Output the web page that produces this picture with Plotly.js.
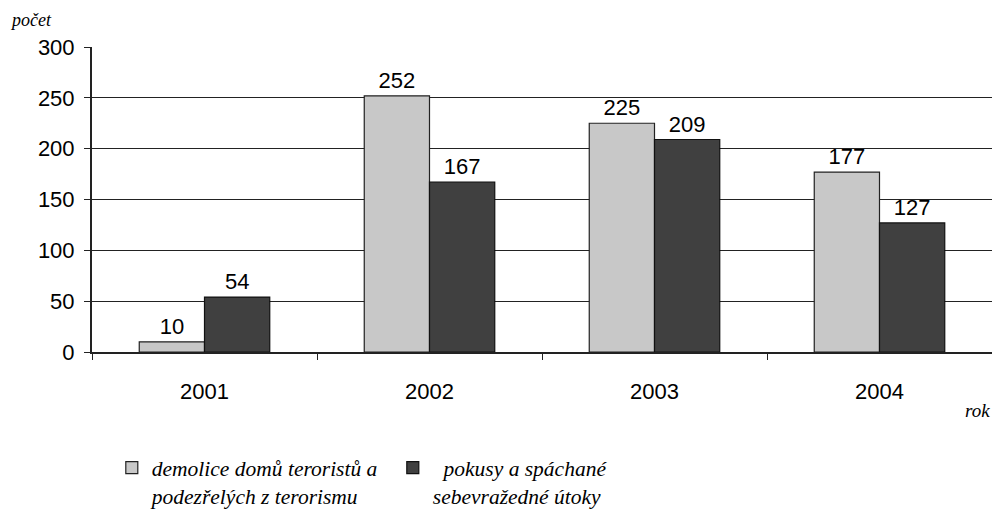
<!DOCTYPE html>
<html><head><meta charset="utf-8">
<script src="https://cdn.plot.ly/plotly-3.0.1.min.js"></script>
<style>body{margin:0;background:#fff}#c{width:992px;height:532px}</style>
</head><body><div id="c"></div>
<script>
const years = ['2001', '2002', '2003', '2004'];
const demolice = [10, 252, 225, 177];
const pokusy = [54, 167, 209, 127];
const seriesNames = ['demolice domů teroristů a<br>podezřelých z terorismu', '\u00a0\u00a0pokusy a spáchané<br>sebevražedné útoky'];
const yTicks = [0, 50, 100, 150, 200, 250, 300];

const lab = {family: 'Liberation Sans, Arial, sans-serif', size: 22, color: '#000'};
const traces = [
  {type: 'bar', x: years, y: demolice, name: seriesNames[0], text: demolice.map(String),
   textposition: 'outside', textfont: lab, cliponaxis: false,
   marker: {color: '#c8c8c8', line: {color: '#222', width: 1.2}}},
  {type: 'bar', x: years, y: pokusy, name: seriesNames[1], text: pokusy.map(String),
   textposition: 'outside', textfont: lab, cliponaxis: false,
   marker: {color: '#404040', line: {color: '#111', width: 1.2}}}
];
const layout = {
  width: 992, height: 532,
  margin: {l: 92, r: 0, t: 47, b: 180},
  paper_bgcolor: '#fff', plot_bgcolor: '#fff',
  barmode: 'group', bargap: 0.42, bargroupgap: 0,
  font: lab,
  showlegend: true,
  xaxis: {type: 'category', range: [-0.5, 3.5], tickson: 'boundaries', ticks: 'outside', ticklen: 6,
    tickcolor: '#222', showgrid: false, showline: true, linecolor: '#222', linewidth: 1.5,
    tickfont: lab, ticklabelstandoff: 19, zeroline: false},
  yaxis: {range: [0, 300], tickvals: yTicks, ticks: 'outside', ticklen: 6, tickcolor: '#222',
    showgrid: true, gridcolor: '#222', gridwidth: 1, showline: true, linecolor: '#222', linewidth: 2,
    zeroline: false, tickfont: lab, ticklabelstandoff: 5},
  legend: {orientation: 'h', x: 0.022, y: -0.312, xanchor: 'left', yanchor: 'top', valign: 'top',
    entrywidth: 236, entrywidthmode: 'pixels', traceorder: 'normal',
    font: {family: 'Liberation Serif, Times New Roman, serif', size: 21.5, color: '#000', style: 'italic'}},
  annotations: [
    {text: 'počet', xref: 'paper', yref: 'paper', x: -0.093, y: 1.05, xanchor: 'left', yanchor: 'bottom', showarrow: false,
     font: {family: 'Liberation Serif, serif', size: 18, style: 'italic', color: '#000'}},
    {text: 'rok', xref: 'paper', yref: 'paper', x: 1, y: -0.15, xanchor: 'right', yanchor: 'top', showarrow: false,
     font: {family: 'Liberation Serif, serif', size: 19, style: 'italic', color: '#000'}}
  ]
};
Plotly.newPlot('c', traces, layout, {displayModeBar: false});
</script></body></html>
